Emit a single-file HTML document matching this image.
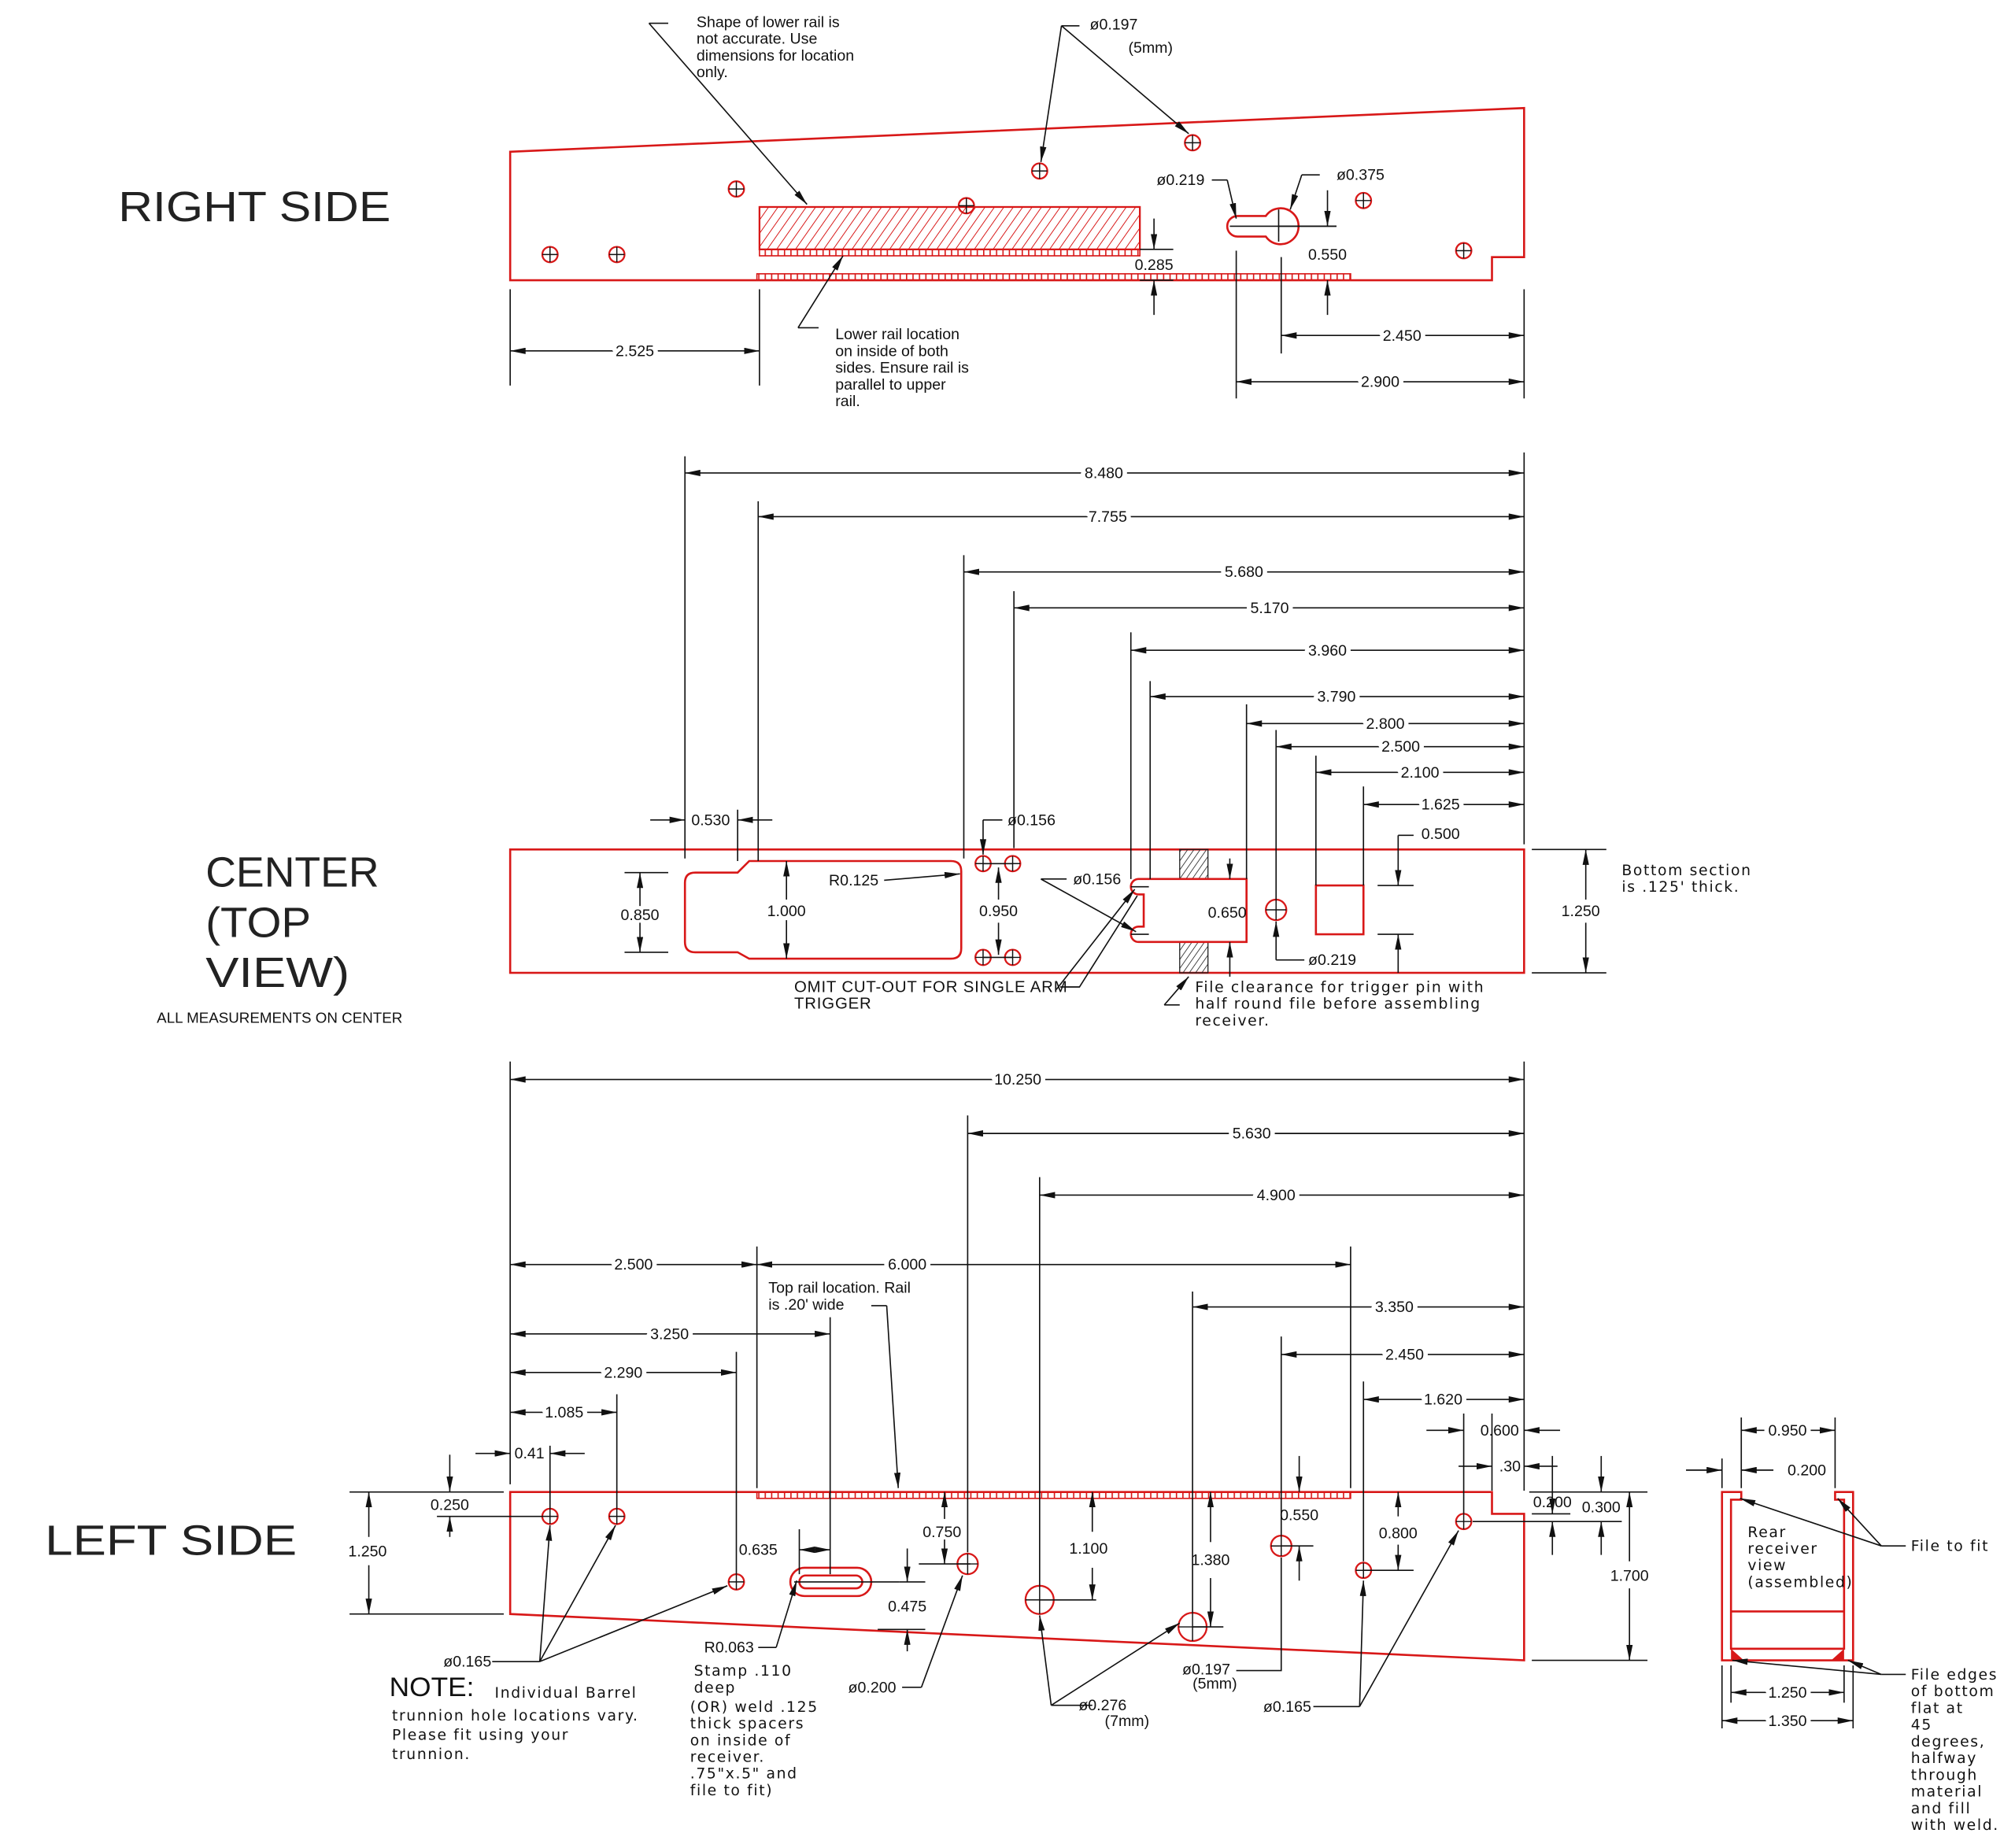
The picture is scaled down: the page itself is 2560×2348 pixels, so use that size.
<!DOCTYPE html>
<html><head><meta charset="utf-8"><style>
html,body{margin:0;padding:0;background:#fff}
svg{display:block}
text{font-family:"Liberation Sans Narrow","Liberation Sans",sans-serif;font-size:12px;fill:#111}
.m{text-anchor:middle}
.h{paint-order:stroke;stroke:#fff;stroke-width:7px;stroke-linejoin:round}
.big{font-size:33px;fill:#222}
.d{stroke:#111;stroke-width:1;fill:none}
.a{stroke:#111;stroke-width:1;fill:none;marker-start:url(#ar);marker-end:url(#ar)}
.e{stroke:#111;stroke-width:1;fill:none;marker-end:url(#ar)}
.r{stroke:#d81818;stroke-width:1.6;fill:none}
.w{font-family:"DejaVu Sans","Liberation Sans",sans-serif;font-size:11.5px;letter-spacing:1px}
</style></head><body>
<svg width="2560" height="2348" viewBox="0 0 1568 1438" xmlns="http://www.w3.org/2000/svg">
<defs>
<marker id="ar" viewBox="0 0 12 5" refX="12" refY="2.5" markerWidth="12" markerHeight="5" markerUnits="userSpaceOnUse" orient="auto-start-reverse"><path d="M0,0 L12,2.5 L0,5 z" fill="#111"/></marker>
<pattern id="hat" width="6" height="6" patternUnits="userSpaceOnUse" patternTransform="rotate(35)"><line x1="0" y1="0" x2="0" y2="6" stroke="#d81818" stroke-width="1.2"/></pattern>
<pattern id="hatk" width="4" height="4" patternUnits="userSpaceOnUse" patternTransform="rotate(35)"><line x1="0" y1="0" x2="0" y2="4" stroke="#222" stroke-width="1"/></pattern>
<pattern id="tooth" width="5" height="6" patternUnits="userSpaceOnUse"><line x1="0.5" y1="0" x2="0.5" y2="6" stroke="#d81818" stroke-width="1"/></pattern>
<g id="h6"><circle r="6" fill="none" stroke="#d81818" stroke-width="1.4"/><path d="M-6,0H6M0,-6V6" stroke="#111" stroke-width="0.9"/></g>
<g id="h8"><circle r="8" fill="none" stroke="#d81818" stroke-width="1.4"/><path d="M-8,0H8M0,-8V8" stroke="#111" stroke-width="0.9"/></g>
<g id="h11"><circle r="11" fill="none" stroke="#d81818" stroke-width="1.4"/><path d="M-11,0H11M0,-11V11" stroke="#111" stroke-width="0.9"/></g>
</defs>
<rect width="1568" height="1438" fill="#fff"/>

<!-- ================= RIGHT SIDE ================= -->
<text x="92" y="172" class="big" textLength="212" lengthAdjust="spacingAndGlyphs">RIGHT SIDE</text>
<path class="r" d="M397,118 L1186,84 L1186,200 L1161,200 L1161,218 L397,218 Z"/>
<rect x="591" y="161" width="296" height="33" fill="url(#hat)" stroke="#d81818" stroke-width="1.4"/>
<rect x="591" y="194" width="296" height="5" fill="url(#tooth)" stroke="#d81818" stroke-width="1"/>
<rect x="589" y="213" width="462" height="5" fill="url(#tooth)" stroke="#d81818" stroke-width="1"/>
<use href="#h6" x="428" y="198"/><use href="#h6" x="480" y="198"/><use href="#h6" x="573" y="147"/>
<use href="#h6" x="752" y="160"/><use href="#h6" x="809" y="133"/><use href="#h6" x="928" y="111"/>
<use href="#h6" x="1061" y="156"/><use href="#h6" x="1139" y="195"/>
<path class="r" d="M963,168 L985,168 A14,14 0 1 1 985,184 L963,184 A8,8 0 0 1 963,168 Z"/>
<path class="d" d="M957,176 H1040 M995,163 V188"/>
<!-- leaders -->
<path class="d" d="M520,18 H505"/><path class="e" d="M505,18 L628,159"/>
<text x="542" y="21">Shape of lower rail is</text><text x="542" y="34">not accurate. Use</text><text x="542" y="47">dimensions for location</text><text x="542" y="60">only.</text>
<path class="d" d="M840,20 H826"/><path class="e" d="M826,20 L810,126"/><path class="e" d="M826,20 L925,104"/>
<text x="848" y="23">ø0.197</text><text x="878" y="41">(5mm)</text>
<path class="d" d="M637,255 H621"/><path class="e" d="M621,255 L656,199"/>
<text x="650" y="264">Lower rail location</text><text x="650" y="277">on inside of both</text><text x="650" y="290">sides. Ensure rail is</text><text x="650" y="303">parallel to upper</text><text x="650" y="316">rail.</text>
<text x="900" y="144">ø0.219</text><path class="d" d="M943,140 H955"/><path class="e" d="M955,140 L962,170"/>
<text x="1040" y="140">ø0.375</text><path class="d" d="M1027,136 H1013"/><path class="e" d="M1013,136 L1004,163"/>
<!-- dims -->
<path class="d" d="M397,225 V300 M591,225 V300 M997,200 V275 M962,195 V310 M1186,225 V310"/>
<path class="a" d="M397,273 H591"/><text x="494" y="277" class="m h">2.525</text>
<path class="a" d="M997,261 H1186"/><text x="1091" y="265" class="m h">2.450</text>
<path class="a" d="M962,297 H1186"/><text x="1074" y="301" class="m h">2.900</text>
<path class="d" d="M887,194 H913 M887,218 H913"/>
<path class="e" d="M898,170 V194"/><path class="e" d="M898,245 V218"/><text x="898" y="210" class="m">0.285</text>
<path class="d" d="M995,176 H1040"/><path class="e" d="M1033,148 V176"/><path class="e" d="M1033,245 V218"/><text x="1033" y="202" class="m">0.550</text>

<!-- ================= CENTER ================= -->
<text x="160" y="690" class="big" textLength="135" lengthAdjust="spacingAndGlyphs">CENTER</text>
<text x="160" y="729" class="big" textLength="82" lengthAdjust="spacingAndGlyphs">(TOP</text>
<text x="160" y="768" class="big" textLength="112" lengthAdjust="spacingAndGlyphs">VIEW)</text>
<text x="122" y="796" style="font-size:11.5px">ALL MEASUREMENTS ON CENTER</text>
<rect x="397" y="661" width="789" height="96" class="r"/>
<path class="r" d="M541,679 L574,679 L583,670 L740,670 Q748,670 748,678 L748,738 Q748,746 740,746 L583,746 L574,741 L541,741 Q533,741 533,733 L533,687 Q533,679 541,679 Z"/>
<use href="#h6" x="765" y="672"/><use href="#h6" x="788" y="672"/><use href="#h6" x="765" y="745"/><use href="#h6" x="788" y="745"/>
<path class="d" d="M765,672 H788 M765,745 H788"/>
<rect x="918" y="661" width="22" height="23" fill="url(#hatk)" stroke="#222" stroke-width="0.8"/>
<rect x="918" y="733" width="22" height="24" fill="url(#hatk)" stroke="#222" stroke-width="0.8"/>
<path class="r" d="M886,684 L970,684 L970,733 L886,733 A6,6 0 0 1 886,721 L890,721 L890,696 L886,696 A6,6 0 0 1 886,684 Z"/>
<path class="d" d="M880,690 H894 M880,727 H894"/>
<use href="#h8" x="993" y="708"/>
<rect x="1024" y="689" width="37" height="38" class="r"/>
<!-- center dims -->
<path class="d" d="M533,355 V668 M590,390 V670 M750,432 V668 M789,460 V660 M880,492 V684 M895,530 V684 M970,548 V684 M993,568 V700 M1024,588 V689 M1061,612 V689 M1186,352 V657 M574,630 V670"/>
<path class="a" d="M533,368 H1186"/><text x="859" y="372" class="m h">8.480</text>
<path class="a" d="M590,402 H1186"/><text x="862" y="406" class="m h">7.755</text>
<path class="a" d="M750,445 H1186"/><text x="968" y="449" class="m h">5.680</text>
<path class="a" d="M789,473 H1186"/><text x="988" y="477" class="m h">5.170</text>
<path class="a" d="M880,506 H1186"/><text x="1033" y="510" class="m h">3.960</text>
<path class="a" d="M895,542 H1186"/><text x="1040" y="546" class="m h">3.790</text>
<path class="a" d="M970,563 H1186"/><text x="1078" y="567" class="m h">2.800</text>
<path class="a" d="M993,581 H1186"/><text x="1090" y="585" class="m h">2.500</text>
<path class="a" d="M1024,601 H1186"/><text x="1105" y="605" class="m h">2.100</text>
<path class="a" d="M1061,626 H1186"/><text x="1121" y="630" class="m h">1.625</text>
<path class="d" d="M1100,650 H1088 M1072,689 H1100 M1072,727 H1100"/><path class="e" d="M1088,650 V689"/><path class="e" d="M1088,757 V727"/><text x="1106" y="653">0.500</text>
<path class="e" d="M506,638 H533"/><path class="e" d="M601,638 H574"/><text x="553" y="642" class="m">0.530</text>
<path class="d" d="M780,638 H765"/><path class="e" d="M765,638 V665"/><text x="784" y="642">ø0.156</text>
<path class="d" d="M486,679 H520 M486,741 H520"/><path class="e" d="M498,705 V679"/><path class="e" d="M498,718 V741"/><text x="498" y="716" class="m">0.850</text>
<path class="e" d="M612,700 V670"/><path class="e" d="M612,716 V746"/><text x="612" y="713" class="m">1.000</text>
<text x="645" y="689">R0.125</text><path class="e" d="M688,685 L747,680"/>
<path class="e" d="M777,700 V675"/><path class="e" d="M777,718 V743"/><text x="777" y="713" class="m">0.950</text>
<text x="835" y="688">ø0.156</text><path class="d" d="M830,684 H810"/><path class="e" d="M810,684 L884,725"/><path class="e" d="M822,770 L883,692"/>
<path class="e" d="M957,668 V684"/><path class="e" d="M957,760 V733"/><text x="955" y="714" class="m">0.650</text>
<path class="d" d="M1015,747 H993"/><path class="e" d="M993,747 V717"/><text x="1018" y="751">ø0.219</text>
<path class="d" d="M1192,661 H1250 M1192,757 H1250"/><path class="e" d="M1234,700 V661"/><path class="e" d="M1234,718 V757"/><text x="1230" y="713" class="m">1.250</text>
<text x="1262" y="681" class="w">Bottom section</text><text x="1262" y="694" class="w">is .125' thick.</text>
<text x="618" y="772" style="font-size:12.5px;letter-spacing:0.5px">OMIT CUT-OUT FOR SINGLE ARM</text><text x="618" y="785" style="font-size:12.5px;letter-spacing:0.5px">TRIGGER</text>
<path class="d" d="M825,768 H840 L885,697"/>
<path class="d" d="M918,782 H906"/><path class="e" d="M906,782 L925,760"/>
<text x="930" y="772" class="w">File clearance for trigger pin with</text><text x="930" y="785" class="w">half round file before assembling</text><text x="930" y="798" class="w">receiver.</text>

<!-- ================= LEFT SIDE ================= -->
<text x="35" y="1210" class="big" textLength="196" lengthAdjust="spacingAndGlyphs">LEFT SIDE</text>
<path class="r" d="M397,1161 L1161,1161 L1161,1178 L1186,1178 L1186,1292 L397,1256 Z"/>
<rect x="589" y="1161" width="462" height="5" fill="url(#tooth)" stroke="#d81818" stroke-width="1"/>
<use href="#h6" x="428" y="1180"/><use href="#h6" x="480" y="1180"/><use href="#h6" x="573" y="1231"/>
<rect x="615" y="1220" width="63" height="22" rx="11" class="r"/><rect x="622" y="1226" width="49" height="10" rx="5" class="r"/>
<path class="d" d="M618,1231 H700"/>
<use href="#h8" x="753" y="1217"/><use href="#h11" x="809" y="1245"/><use href="#h11" x="928" y="1266"/>
<use href="#h8" x="997" y="1203"/><use href="#h6" x="1061" y="1222"/><use href="#h6" x="1139" y="1184"/>
<!-- ext lines -->
<path class="d" d="M397,826 V1155 M1186,826 V1155 M753,868 V1208 M809,916 V1234 M589,970 V1158 M1051,970 V1158 M928,1005 V1255 M646,1025 V1225 M997,1040 V1195 M573,1052 V1225 M1061,1075 V1215 M480,1085 V1174 M428,1125 V1174 M1139,1100 V1178 M1161,1100 V1160 M1186,1100 V1160"/>
<path class="a" d="M397,840 H1186"/><text x="792" y="844" class="m h">10.250</text>
<path class="a" d="M753,882 H1186"/><text x="974" y="886" class="m h">5.630</text>
<path class="a" d="M809,930 H1186"/><text x="993" y="934" class="m h">4.900</text>
<path class="a" d="M397,984 H589"/><text x="493" y="988" class="m h">2.500</text>
<path class="a" d="M589,984 H1051"/><text x="706" y="988" class="m h">6.000</text>
<path class="a" d="M928,1017 H1186"/><text x="1085" y="1021" class="m h">3.350</text>
<path class="a" d="M397,1038 H646"/><text x="521" y="1042" class="m h">3.250</text>
<path class="a" d="M997,1054 H1186"/><text x="1093" y="1058" class="m h">2.450</text>
<path class="a" d="M397,1068 H573"/><text x="485" y="1072" class="m h">2.290</text>
<path class="a" d="M1061,1089 H1186"/><text x="1123" y="1093" class="m h">1.620</text>
<path class="a" d="M397,1099 H480"/><text x="439" y="1103" class="m h">1.085</text>
<path class="e" d="M1110,1113 H1139"/><path class="e" d="M1214,1113 H1186"/><text x="1167" y="1117" class="m">0.600</text>
<path class="e" d="M370,1131 H397"/><path class="e" d="M455,1131 H428"/><text x="412" y="1135" class="m">0.41</text>
<path class="e" d="M1135,1141 H1161"/><path class="e" d="M1212,1141 H1186"/><text x="1175" y="1145" class="m">.30</text>
<text x="598" y="1006">Top rail location. Rail</text><text x="598" y="1019">is .20' wide</text>
<path class="d" d="M678,1016 H690"/><path class="e" d="M690,1016 L699,1158"/>
<!-- vertical dims -->
<path class="d" d="M272,1161 H392 M272,1256 H392 M340,1180 H422"/>
<path class="e" d="M350,1132 V1161"/><path class="e" d="M350,1196 V1180"/><text x="350" y="1175" class="m">0.250</text>
<path class="e" d="M287,1196 V1161"/><path class="e" d="M287,1218 V1256"/><text x="286" y="1211" class="m">1.250</text>
<path class="d" d="M1190,1161 H1282 M1192,1292 H1282 M1192,1178 H1222 M1146,1184 H1262"/>
<path class="e" d="M1208,1133 V1178"/><path class="e" d="M1208,1210 V1184"/><text x="1208" y="1173" class="m">0.200</text>
<path class="e" d="M1246,1133 V1161"/><path class="e" d="M1246,1210 V1184"/><text x="1246" y="1177" class="m">0.300</text>
<path class="e" d="M1268,1215 V1161"/><path class="e" d="M1268,1236 V1292"/><text x="1268" y="1230" class="m">1.700</text>
<path class="d" d="M622,1190 V1225"/><path class="e" d="M634,1206 H622"/><path class="e" d="M634,1206 H646"/><text x="590" y="1210" class="m">0.635</text>
<path class="d" d="M715,1217 H755"/><path class="e" d="M735,1182 V1161"/><path class="e" d="M735,1198 V1217"/><text x="733" y="1196" class="m">0.750</text>
<path class="d" d="M683,1268 H720 M700,1231 H720"/><path class="e" d="M706,1205 V1231"/><path class="e" d="M706,1285 V1268"/><text x="706" y="1254" class="m">0.475</text>
<path class="d" d="M809,1245 H853"/><path class="e" d="M850,1192 V1161"/><path class="e" d="M850,1220 V1245"/><text x="847" y="1209" class="m">1.100</text>
<path class="d" d="M928,1266 H952"/><path class="e" d="M942,1200 V1161"/><path class="e" d="M942,1228 V1266"/><text x="942" y="1218" class="m">1.380</text>
<path class="d" d="M997,1203 H1022"/><path class="e" d="M1011,1133 V1161"/><path class="e" d="M1011,1230 V1203"/><text x="1011" y="1183" class="m">0.550</text>
<path class="d" d="M1061,1222 H1100"/><path class="e" d="M1088,1180 V1161"/><path class="e" d="M1088,1202 V1222"/><text x="1088" y="1197" class="m">0.800</text>
<!-- leaders -->
<text x="345" y="1297">ø0.165</text><path class="d" d="M383,1293 H420"/>
<path class="e" d="M420,1293 L428,1187"/><path class="e" d="M420,1293 L479,1187"/><path class="e" d="M420,1293 L566,1234"/>
<text x="548" y="1286">R0.063</text><path class="d" d="M590,1282 H604"/><path class="e" d="M604,1282 L620,1230"/>
<text x="660" y="1317">ø0.200</text><path class="d" d="M702,1313 H717"/><path class="e" d="M717,1313 L749,1226"/>
<text x="858" y="1331" class="m">ø0.276</text><text x="877" y="1343" class="m">(7mm)</text>
<path class="d" d="M850,1327 H818"/><path class="e" d="M818,1327 L809,1257"/><path class="e" d="M818,1327 L918,1263"/>
<text x="920" y="1303">ø0.197</text><text x="928" y="1314">(5mm)</text><path class="d" d="M962,1300 H997 V1212"/>
<text x="983" y="1332">ø0.165</text><path class="d" d="M1022,1328 H1058"/>
<path class="e" d="M1058,1328 L1061,1230"/><path class="e" d="M1058,1328 L1135,1191"/>
<text x="303" y="1320" style="font-size:21px" textLength="66" lengthAdjust="spacingAndGlyphs">NOTE:</text>
<text x="385" y="1321" class="w">Individual Barrel</text>
<text x="305" y="1339" class="w">trunnion hole locations vary.</text>
<text x="305" y="1354" class="w">Please fit using your</text>
<text x="305" y="1369" class="w">trunnion.</text>
<text x="540" y="1304" class="w">Stamp .110</text><text x="540" y="1317" class="w">deep</text>
<text x="537" y="1332" class="w">(OR) weld .125</text><text x="537" y="1345" class="w">thick spacers</text><text x="537" y="1358" class="w">on inside of</text>
<text x="537" y="1371" class="w">receiver.</text><text x="537" y="1384" class="w">.75"x.5" and</text><text x="537" y="1397" class="w">file to fit)</text>

<!-- ================= REAR VIEW ================= -->
<path class="r" d="M1340,1161 L1355,1161 L1355,1167 L1347,1167 L1347,1283 L1435,1283 L1435,1167 L1428,1167 L1428,1161 L1442,1161 L1442,1292 L1340,1292 Z"/>
<path class="r" d="M1347,1254 H1435 M1347,1283 H1435"/>
<path d="M1347,1283 L1347,1292 L1357,1292 Z M1435,1283 L1435,1292 L1425,1292 Z" fill="#d81818"/>
<path class="d" d="M1355,1103 V1158 M1428,1103 V1158 M1340,1135 V1158 M1347,1296 V1325 M1435,1296 V1325 M1340,1296 V1345 M1442,1296 V1345"/>
<path class="a" d="M1355,1113 H1428"/><text x="1391" y="1117" class="m h">0.950</text>
<path class="e" d="M1312,1144 H1340"/><path class="e" d="M1380,1144 H1355"/><text x="1406" y="1148" class="m">0.200</text>
<text x="1360" y="1196" class="w">Rear</text><text x="1360" y="1209" class="w">receiver</text><text x="1360" y="1222" class="w">view</text><text x="1360" y="1235" class="w">(assembled)</text>
<path class="d" d="M1483,1203 H1464"/><path class="e" d="M1464,1203 L1354,1166"/><path class="e" d="M1464,1203 L1430,1166"/>
<text x="1487" y="1207" class="w">File to fit</text>
<path class="a" d="M1347,1317 H1435"/><text x="1391" y="1321" class="m h">1.250</text>
<path class="a" d="M1340,1339 H1442"/><text x="1391" y="1343" class="m h">1.350</text>
<path class="d" d="M1483,1303 H1464"/><path class="e" d="M1464,1303 L1348,1292"/><path class="e" d="M1464,1303 L1438,1292"/>
<text x="1487" y="1307" class="w">File edges</text><text x="1487" y="1320" class="w">of bottom</text><text x="1487" y="1333" class="w">flat at</text>
<text x="1487" y="1346" class="w">45</text><text x="1487" y="1359" class="w">degrees,</text><text x="1487" y="1372" class="w">halfway</text>
<text x="1487" y="1385" class="w">through</text><text x="1487" y="1398" class="w">material</text><text x="1487" y="1411" class="w">and fill</text><text x="1487" y="1424" class="w">with weld.</text>
</svg>
</body></html>
